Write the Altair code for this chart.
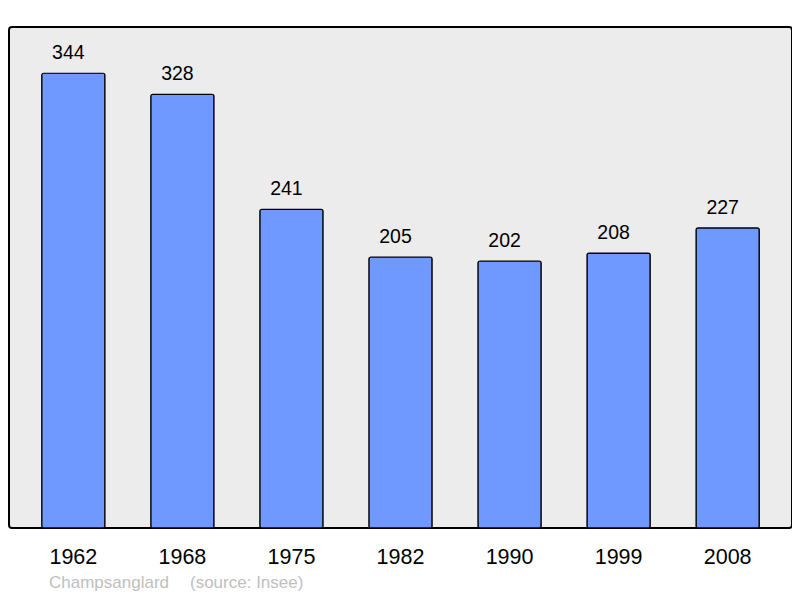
import altair as alt
import pandas as pd

years = ["1962", "1968", "1975", "1982", "1990", "1999", "2008"]
population = [344, 328, 241, 205, 202, 208, 227]
commune = "Champsanglard"
source = "(source: Insee)"

df = pd.DataFrame({"year": years, "pop": population})

FONT = "Liberation Sans"

x = alt.X("year:N", sort=years,
          scale=alt.Scale(paddingInner=0.42, paddingOuter=0.3),
          axis=alt.Axis(title=None, labelAngle=0, labelFontSize=21.5, labelColor="black",
                        labelFont=FONT, ticks=False, domain=False, labelPadding=18, grid=False))
y = alt.Y("pop:Q", scale=alt.Scale(domain=[0, 379], nice=False, zero=True), axis=None)

bars = alt.Chart(df).mark_bar(color="#7099ff", stroke="black", strokeWidth=1.2,
                              cornerRadius=2).encode(x=x, y=y)
labels = alt.Chart(df).mark_text(baseline="alphabetic", dy=-14, dx=-5, fontSize=19.5, font=FONT,
                                 color="black").encode(x=x, y=y, text="pop:Q")

foot1 = alt.Chart(pd.DataFrame({"t": [commune]})).mark_text(
    align="left", baseline="middle", fontSize=17, font=FONT, color="#c0c0c0"
).encode(text="t:N", x=alt.value(40), y=alt.value(556))
foot2 = alt.Chart(pd.DataFrame({"t": [source]})).mark_text(
    align="left", baseline="middle", fontSize=17, font=FONT, color="#c0c0c0"
).encode(text="t:N", x=alt.value(181), y=alt.value(556))

chart = alt.layer(bars, labels, foot1, foot2).properties(
    width=783, height=501,
    autosize=alt.AutoSizeParams(type="none"),
    padding={"left": 1, "top": 19, "right": 0, "bottom": 70},
    background="white",
).configure_view(
    fill="#ececec", stroke="black", strokeWidth=2, cornerRadius=3
)

chart.save("out.html", embed_options={"renderer": "svg", "actions": False})
